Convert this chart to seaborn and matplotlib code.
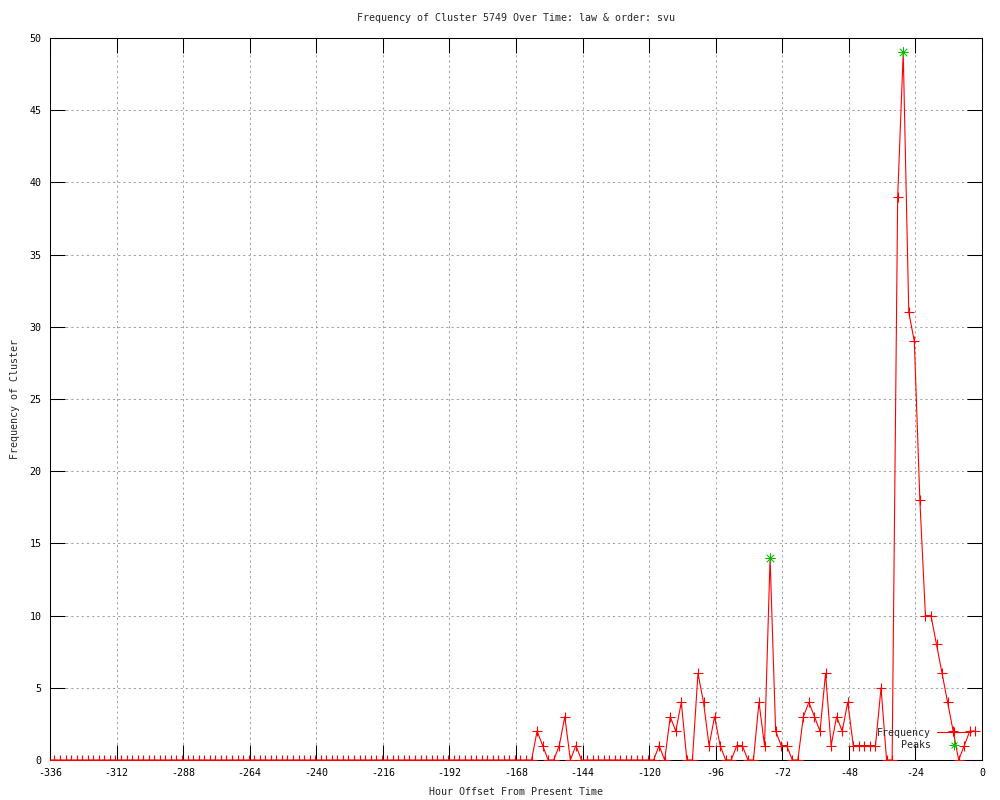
import numpy as np
import pandas as pd
import matplotlib
matplotlib.use("Agg")
import matplotlib.pyplot as plt
from matplotlib.lines import Line2D
from matplotlib.legend_handler import HandlerTuple
import seaborn as sns

# ---- data ----
hour_start = -336.4
hour_step = 2
freq = (
    [0] * 88
    + [2, 1, 0, 0, 1, 3, 0, 1, 0]
    + [0] * 13
    + [1, 0, 3, 2, 4, 0, 0, 6, 4, 1, 3, 1, 0, 0, 1, 1, 0, 0, 4, 1,
       14, 2, 1, 1, 0, 0, 3, 4, 3, 2, 6, 1, 3, 2, 4, 1, 1, 1, 1, 1,
       5, 0, 0, 39, 49, 31, 29, 18, 10, 10, 8, 6, 4, 2, 0, 1, 2, 2]
)
hours = [hour_start + hour_step * i for i in range(len(freq))]
peak_idx = [130, 154]
peak_hours = [hours[i] for i in peak_idx]
peak_vals = [freq[i] for i in peak_idx]

x_ticks = list(range(-336, 1, 24))
y_ticks = list(range(0, 51, 5))

title = "Frequency of Cluster 5749 Over Time: law & order: svu"
xlabel = "Hour Offset From Present Time"
ylabel = "Frequency of Cluster"

# ---- style ----
sns.set_style("ticks")
plt.rcParams["font.family"] = ["DejaVu Sans Mono", "DejaVu Sans"]
plt.rcParams["font.size"] = 7.2

df = pd.DataFrame({"hour": hours, "freq": freq})
pk = pd.DataFrame({"hour": peak_hours, "freq": peak_vals})

fig = plt.figure(figsize=(10, 8), dpi=100)
ax = fig.add_axes([0.05, 0.05, 0.932, 0.9025])

red = "#ff0000"
green = "#00c000"

sns.lineplot(data=df, x="hour", y="freq", ax=ax, sort=False, color=red,
             linewidth=0.8, marker="+", markersize=6.5, markeredgewidth=0.8,
             markeredgecolor=red, zorder=3)
sns.scatterplot(data=pk, x="hour", y="freq", ax=ax, marker="+", s=42,
                color=green, linewidth=0.75, zorder=4)
sns.scatterplot(data=pk, x="hour", y="freq", ax=ax, marker="x", s=30,
                color=green, linewidth=0.75, zorder=4)

ax.set_xlim(-336, 0)
ax.set_ylim(0, 50)
ax.set_xticks(x_ticks)
ax.set_yticks(y_ticks)
ax.set_xticklabels([str(t) for t in x_ticks])
ax.set_yticklabels([str(t) for t in y_ticks])
ax.tick_params(direction="in", length=10.8, width=0.75, top=True, right=True,
               labelsize=7.2, colors="black", pad=6)
ax.grid(True, color="#a0a0a0", linestyle=(0, (2, 3)), linewidth=0.75, zorder=0)
for s in ax.spines.values():
    s.set_linewidth(0.75)
    s.set_color("black")
    s.set_visible(True)

ax.set_title(title, fontsize=7.2, pad=12)
ax.set_xlabel(xlabel, fontsize=7.2, labelpad=6)
ax.set_ylabel(ylabel, fontsize=7.2)
ax.yaxis.set_label_coords(-0.0327, 0.5)

h_freq = Line2D([], [], color=red, linewidth=0.8, marker="+", markersize=6.5,
                markeredgewidth=0.8)
h_p1 = Line2D([], [], color=green, linestyle="none", marker="+", markersize=6.5,
              markeredgewidth=0.75)
h_p2 = Line2D([], [], color=green, linestyle="none", marker="x", markersize=5,
              markeredgewidth=0.75)
ax.legend([h_freq, (h_p1, h_p2)], ["Frequency", "Peaks"], loc="lower right",
          bbox_to_anchor=(0.992, 0.008), frameon=False, markerfirst=False,
          handlelength=3.4, handletextpad=0.6, labelspacing=0.25, fontsize=7.2,
          handler_map={tuple: HandlerTuple(ndivide=1, pad=0)},
          borderaxespad=0.0)

fig.savefig("out.png", dpi=100)
